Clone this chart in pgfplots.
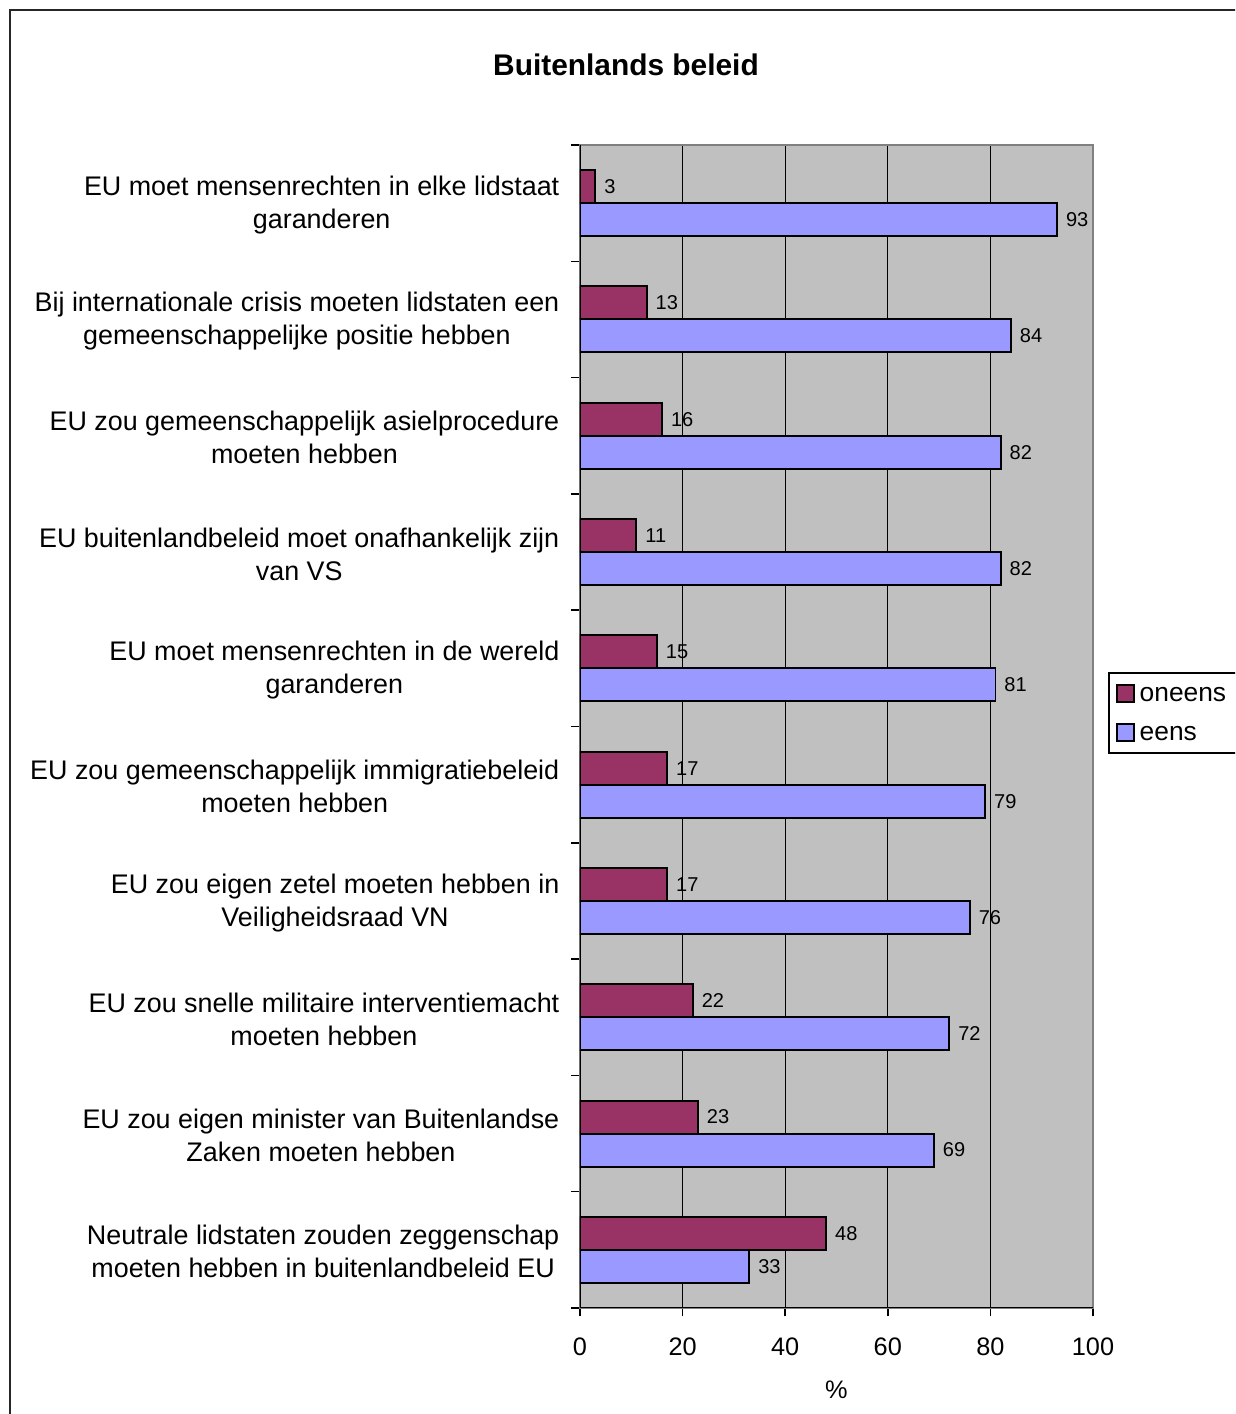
\documentclass[border=0pt]{standalone}
\usepackage{fontspec}
\setmainfont{Liberation Sans}
\usepackage{pgfplots}
\pgfplotsset{compat=1.18}

\definecolor{oneens}{HTML}{993366}
\definecolor{eens}{HTML}{9999FF}
\definecolor{plotbg}{HTML}{C0C0C0}

\pgfplotsset{sqlegend/.style={legend image code/.code={%
  \draw[##1, line width=0.55pt] (0cm,-0.085cm) rectangle (0.17cm,0.085cm);}}}

\begin{document}
\begin{tikzpicture}[x=1cm,y=1cm]
\useasboundingbox (0,0) rectangle (12.35,14.14);
\clip (0,0) rectangle (12.35,14.14);
% outer chart frame (right and bottom fall outside the picture)
\draw[black!85, line width=0.6pt] (0.10,-1) -- (0.10,14.04) -- (13.5,14.04);
\node[font=\bfseries\fontsize{8.5}{10}\selectfont] at (6.26,13.49) {Buitenlands beleid};

\begin{axis}[
  at={(5.80cm,1.06cm)}, anchor=south west,
  scale only axis, width=5.13cm, height=11.63cm,
  xbar, bar width=0.33cm,
  xmin=0, xmax=100, ymin=-0.5, ymax=9.5,
  point meta=x,
  axis background/.style={fill=plotbg},
  axis line style={black!50, line width=0.5pt},
  tick align=outside, major tick length=0.085cm,
  xtick pos=bottom, ytick pos=left,
  tick style={black, line width=0.4pt},
  xtick={0,20,...,100},
  xmajorgrids, major grid style={black, line width=0.35pt},
  /pgf/number format/assume math mode=true,
  xticklabel style={font=\fontsize{7.2}{8.5}\selectfont, yshift=-0.09cm},
  ytick={-0.5,0.5,...,9.5}, yticklabels={},
  extra y ticks={0,1,2,3,4,5,6,7,8,9},
  extra y tick labels={
    {Neutrale lidstaten zouden zeggenschap\\moeten hebben in buitenlandbeleid EU},
    {EU zou eigen minister van Buitenlandse\\Zaken moeten hebben},
    {EU zou snelle militaire interventiemacht\\moeten hebben},
    {EU zou eigen zetel moeten hebben in\\Veiligheidsraad VN},
    {EU zou gemeenschappelijk immigratiebeleid\\moeten hebben},
    {EU moet mensenrechten in de wereld\\garanderen},
    {EU buitenlandbeleid moet onafhankelijk zijn\\van VS},
    {EU zou gemeenschappelijk asielprocedure\\moeten hebben},
    {Bij internationale crisis moeten lidstaten een\\gemeenschappelijke positie hebben},
    {EU moet mensenrechten in elke lidstaat\\garanderen}},
  extra y tick style={major tick length=0pt, ymajorgrids=false,
    yticklabel style={font=\fontsize{7.65}{9.4}\selectfont, align=center,
      inner sep=0pt, xshift=-0.2cm, yshift=-0.02cm}},
  xlabel={\%},
  xlabel style={at={(rel axis cs:0.5,0)}, anchor=center, yshift=-0.82cm,
    font=\fontsize{7.2}{8.5}\selectfont},
  nodes near coords,
  every node near coord/.append style={font=\fontsize{5.7}{6.8}\selectfont,
    anchor=west, inner sep=0pt, xshift=0.08cm, black},
  legend style={at={(rel axis cs:1.029,0.5469)}, anchor=north west,
    draw=black, line width=0.5pt, font=\fontsize{7.5}{8.5}\selectfont,
    row sep=0pt, inner xsep=0.07cm, inner ysep=0.01cm,
    nodes={inner ysep=0pt, inner xsep=0.05cm, text height=0.28cm, text depth=0.11cm}},
  legend cell align=left,
]
\addplot[fill=oneens, draw=black, line width=0.55pt, bar shift=0.165cm, sqlegend]
  coordinates {(48,0) (23,1) (22,2) (17,3) (17,4) (15,5) (11,6) (16,7) (13,8) (3,9)};
\addlegendentry{oneens}
\addplot[fill=eens, draw=black, line width=0.55pt, bar shift=-0.165cm, sqlegend]
  coordinates {(33,0) (69,1) (72,2) (76,3) (79,4) (81,5) (82,6) (82,7) (84,8) (93,9)};
\addlegendentry{eens}
\draw[black, line width=0.5pt] (rel axis cs:0,1) -- (rel axis cs:0,0) -- (rel axis cs:1,0);
\end{axis}
\end{tikzpicture}
\end{document}
